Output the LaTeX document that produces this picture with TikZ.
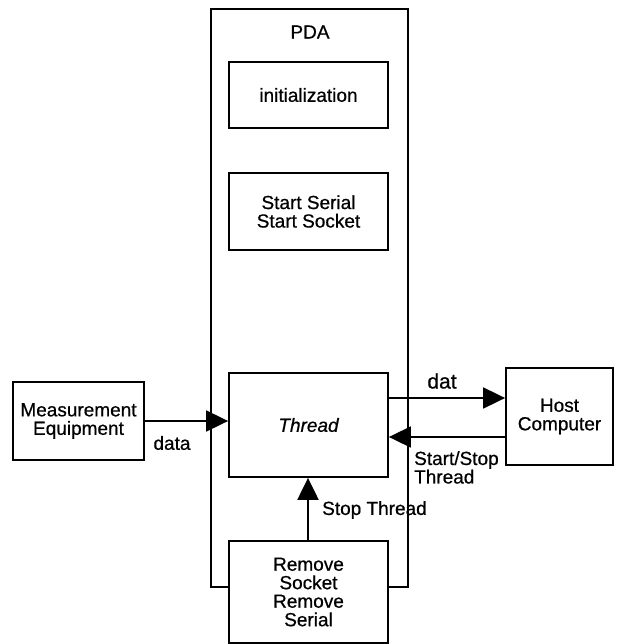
\documentclass[tikz,border=0pt]{standalone}
\usepackage{fontspec}
\setmainfont{Liberation Sans}[FakeBold=0.6]
\usetikzlibrary{arrows.meta}
\begin{document}
\begin{tikzpicture}[x=1pt,y=-1pt,
  box/.style={draw,line width=1.8pt,fill=white,rectangle,inner sep=0pt,align=center,
    font=\fontsize{19}{18.5}\selectfont},
  lbl/.style={inner sep=0pt,font=\fontsize{19}{18.5}\selectfont},
  arr/.style={line width=1.8pt,-{Triangle[length=22pt,width=21pt]}}]
\useasboundingbox[fill=white] (0,0) rectangle (616,644);
\node[box,minimum width=197pt,minimum height=578pt] (pda) at (309.5,298) {};
\node[lbl] (pdalbl) at (310,32) {PDA};
\node[box,minimum width=159pt,minimum height=66pt] (init) at (308.5,95) {initialization};
\node[box,minimum width=159pt,minimum height=77pt] (start) at (308.5,211.5) {Start Serial\\Start Socket};
\node[box,minimum width=159pt,minimum height=104pt] (thread) at (308.5,425) {\itshape Thread};
\node[box,minimum width=131pt,minimum height=78pt] (meas) at (78.5,421) {Measurement\\Equipment};
\node[box,minimum width=107pt,minimum height=97pt] (host) at (559.5,416.5) {Host\\Computer};
\node[box,minimum width=159pt,minimum height=102pt] (remove) at (308.5,592) {Remove\\Socket\\Remove\\Serial};
\draw[arr] (meas.east) -- (thread.west |- meas.east);
\draw[arr] ([yshift=27pt]thread.east) -- ([yshift=27pt]thread.east -| host.west);
\draw[arr] ([yshift=-12pt]thread.east -| host.west) -- ([yshift=-12pt]thread.east);
\draw[arr,line width=2.2pt] ([xshift=-0.5pt]remove.north) -- ([xshift=-0.5pt]thread.south);
\node[lbl] (datalbl) at (172,443) {data};
\node[lbl,font=\fontsize{21}{21}\selectfont] (datlbl) at (442,381) {dat};
\node[lbl,anchor=north west,align=left] (sslbl) at (414,451) {Start/Stop\\Thread};
\node[lbl,anchor=west] (stlbl) at (322,510) {Stop Thread};
\end{tikzpicture}
\end{document}
